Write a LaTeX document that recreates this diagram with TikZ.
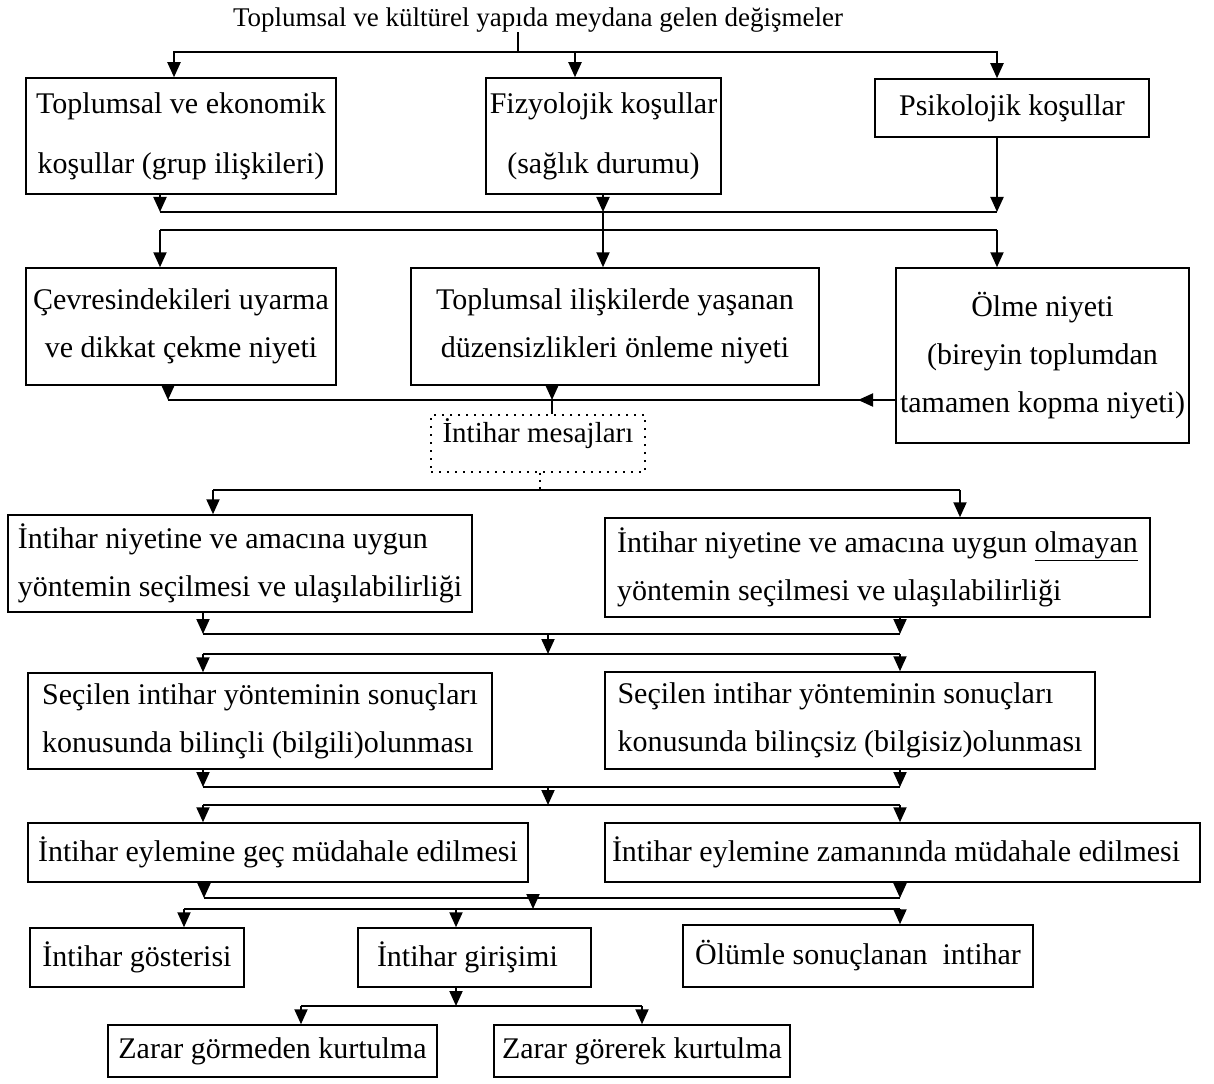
\documentclass[tikz,border=0pt]{standalone}
\usepackage{fontspec}
\setmainfont{Liberation Serif}
\usepackage{tikz}
\usetikzlibrary{arrows.meta, positioning, calc}
\tikzset{
  block/.style={rectangle, draw=black, line width=1.5pt, inner sep=0pt,
    align=center, font=\fontsize{30}{48}\selectfont},
  lblock/.style={block, align=left},
  fblock/.style={block, align=flush left},
  dotblock/.style={rectangle, draw=black, line width=1.5pt,
    dash pattern=on 2pt off 6pt, inner sep=0pt},
  arrow/.style={-{Triangle[width=13pt,length=15pt]}, line width=2pt, color=black},
  line/.style={line width=2pt, color=black},
  dotline/.style={line width=1.5pt, dash pattern=on 2pt off 5pt}
}

\begin{document}
\begin{tikzpicture}[x=1pt, y=-1pt]
  \useasboundingbox (0,0) rectangle (1214,1083);

  % Title
  \node[font=\fontsize{27}{32}\selectfont, inner sep=0pt] (title) at (538,20)
    {Toplumsal ve kültürel yapıda meydana gelen değişmeler};

  % Row 1: conditions
  \node[block, minimum width=310pt, minimum height=116pt] (ekon) at (181,136)
    {Toplumsal ve ekonomik\\[12pt]koşullar (grup ilişkileri)};
  \node[block, minimum width=235pt, minimum height=116pt] (fiz) at (603.5,136)
    {Fizyolojik koşullar\\[12pt](sağlık durumu)};
  \node[block, minimum width=274pt, minimum height=58pt] (psi) at (1012,108)
    {Psikolojik koşullar};

  % Row 2: intentions
  \node[block, minimum width=310pt, minimum height=117pt] (uyar) at (181,326.5)
    {Çevresindekileri uyarma\\ve dikkat çekme niyeti};
  \node[block, minimum width=408pt, minimum height=117pt] (duzen) at (615,326.5)
    {Toplumsal ilişkilerde yaşanan\\düzensizlikleri önleme niyeti};
  \node[block, minimum width=293pt, minimum height=175pt] (olme) at (1042.5,355.5)
    {Ölme niyeti\\(bireyin toplumdan\\tamamen kopma niyeti)};
  \node[dotblock, minimum width=214pt, minimum height=57pt,
    label={[font=\fontsize{29}{34}\selectfont, anchor=north, inner sep=0pt, yshift=-4pt]north:İntihar mesajları}]
    (mesaj) at (538,443.5) {};

  % Row 3: method
  \node[lblock, minimum width=464pt, minimum height=97pt] (uygun) at (240,563.5)
    {İntihar niyetine ve amacına uygun\\yöntemin seçilmesi ve ulaşılabilirliği};
  \node[lblock, minimum width=545pt, minimum height=99pt] (olmayan) at (877.5,567.5)
    {İntihar niyetine ve amacına uygun \underline{olmayan}\\yöntemin seçilmesi ve ulaşılabilirliği};

  % Row 4: awareness
  \node[lblock, minimum width=464pt, minimum height=96pt] (bilincli) at (260,721)
    {Seçilen intihar yönteminin sonuçları\\konusunda bilinçli (bilgili)olunması};
  \node[lblock, minimum width=490pt, minimum height=97pt] (bilincsiz) at (850,720.5)
    {Seçilen intihar yönteminin sonuçları\\konusunda bilinçsiz (bilgisiz)olunması};

  % Row 5: intervention
  \node[block, minimum width=500pt, minimum height=59pt] (gec) at (278,852.5)
    {İntihar eylemine geç müdahale edilmesi};
  \node[fblock, text width=581pt, inner xsep=7pt, minimum height=59pt] (zaman) at (902.5,852.5)
    {İntihar eylemine zamanında müdahale edilmesi};

  % Row 6: outcome
  \node[block, minimum width=214pt, minimum height=59pt] (gosteri) at (137,957.5)
    {İntihar gösterisi};
  \node[fblock, text width=195pt, inner xsep=19pt, minimum height=59pt] (girisim) at (474.5,957.5)
    {İntihar girişimi};
  \node[block, minimum width=350pt, minimum height=62pt] (olum) at (858,956)
    {Ölümle sonuçlanan\ \ intihar};

  % Row 7: survival
  \node[block, minimum width=329pt, minimum height=52pt] (zararsiz) at (272.5,1051)
    {Zarar görmeden kurtulma};
  \node[block, minimum width=296pt, minimum height=52pt] (zararli) at (642,1051)
    {Zarar görerek kurtulma};

  % Bus junctions
  \coordinate (b1) at (518,52);
  \coordinate (b2l) at (160,212); \coordinate (b2) at (603,212); \coordinate (b2r) at (997,212);
  \coordinate (b3l) at (160,230); \coordinate (b3r) at (997,230);
  \coordinate (b4l) at (168,400); \coordinate (b4) at (552,400); \coordinate (b4a) at (858,400);
  \coordinate (b5l) at (213,490); \coordinate (b5) at (540,490); \coordinate (b5r) at (960,490);
  \coordinate (b6l) at (203,634); \coordinate (b6) at (548,634); \coordinate (b6r) at (900,634);
  \coordinate (b7l) at (203,654); \coordinate (b7r) at (900,654);
  \coordinate (b8l) at (203,787); \coordinate (b8) at (548,787); \coordinate (b8r) at (900,787);
  \coordinate (b9l) at (203,805); \coordinate (b9r) at (900,805);
  \coordinate (b10l) at (204,898); \coordinate (b10) at (533,898); \coordinate (b10r) at (900,898);
  \coordinate (b11l) at (184,909); \coordinate (b11) at (456,909); \coordinate (b11r) at (900,909);
  \coordinate (b12l) at (301,1006); \coordinate (b12) at (456,1006); \coordinate (b12r) at (642,1006);

  % Title to row 1
  \draw[line] (b1 |- title.south) -- (b1);
  \draw[arrow] (b1) -| ([xshift=-7pt]ekon.north);
  \draw[arrow] (b1) -| ([xshift=-28.5pt]fiz.north);
  \draw[arrow] (b1) -| ([xshift=-15pt]psi.north);

  % Row 1 to row 2
  \draw[line] (b2l) -- (b2r);
  \draw[arrow] (ekon.south -| b2l) -- (b2l);
  \draw[arrow] (fiz.south -| b2) -- (b2);
  \draw[arrow] (psi.south -| b2r) -- (b2r);
  \draw[line] (b3l) -- (b3r);
  \draw[arrow] (b2) -- (duzen.north -| b2);
  \draw[arrow] (b3l) -- (uyar.north -| b3l);
  \draw[arrow] (b3r) -- (olme.north -| b3r);

  % Row 2 to messages
  \draw[line] (b4l) -- (olme.west |- b4l);
  \draw[arrow] (uyar.south -| b4l) -- (b4l);
  \draw[arrow] (duzen.south -| b4) -- (b4);
  \draw[arrow] (olme.west |- b4a) -- (b4a);
  \draw[line] (b4) -- (mesaj.north -| b4);

  % Messages to row 3
  \draw[dotline] (mesaj.south -| b5) -- (b5);
  \draw[line] (b5l) -- (b5r);
  \draw[arrow] (b5l) -- (uygun.north -| b5l);
  \draw[arrow] (b5r) -- (olmayan.north -| b5r);

  % Row 3 to row 4
  \draw[line] (b6l) -- (b6r);
  \draw[arrow] (uygun.south -| b6l) -- (b6l);
  \draw[arrow] (olmayan.south -| b6r) -- (b6r);
  \draw[arrow] (b6) -- (b6 |- b7l);
  \draw[line] (b7l) -- (b7r);
  \draw[arrow] (b7l) -- (bilincli.north -| b7l);
  \draw[arrow] (b7r) -- (bilincsiz.north -| b7r);

  % Row 4 to row 5
  \draw[line] (b8l) -- (b8r);
  \draw[arrow] (bilincli.south -| b8l) -- (b8l);
  \draw[arrow] (bilincsiz.south -| b8r) -- (b8r);
  \draw[arrow] (b8) -- (b8 |- b9l);
  \draw[line] (b9l) -- (b9r);
  \draw[arrow] (b9l) -- (gec.north -| b9l);
  \draw[arrow] (b9r) -- (zaman.north -| b9r);

  % Row 5 to row 6
  \draw[line] (b10l) -- (b10r);
  \draw[arrow] (gec.south -| b10l) -- (b10l);
  \draw[arrow] (zaman.south -| b10r) -- (b10r);
  \draw[arrow] (b10) -- (b10 |- b11l);
  \draw[line] (b11l) -- (b11r);
  \draw[arrow] (b11l) -- (gosteri.north -| b11l);
  \draw[arrow] (b11) -- (girisim.north -| b11);
  \draw[arrow] (b11r) -- (olum.north -| b11r);

  % Row 6 to row 7
  \draw[arrow] (girisim.south -| b12) -- (b12);
  \draw[line] (b12l) -- (b12r);
  \draw[arrow] (b12l) -- (zararsiz.north -| b12l);
  \draw[arrow] (b12r) -- (zararli.north -| b12r);
\end{tikzpicture}
\end{document}
